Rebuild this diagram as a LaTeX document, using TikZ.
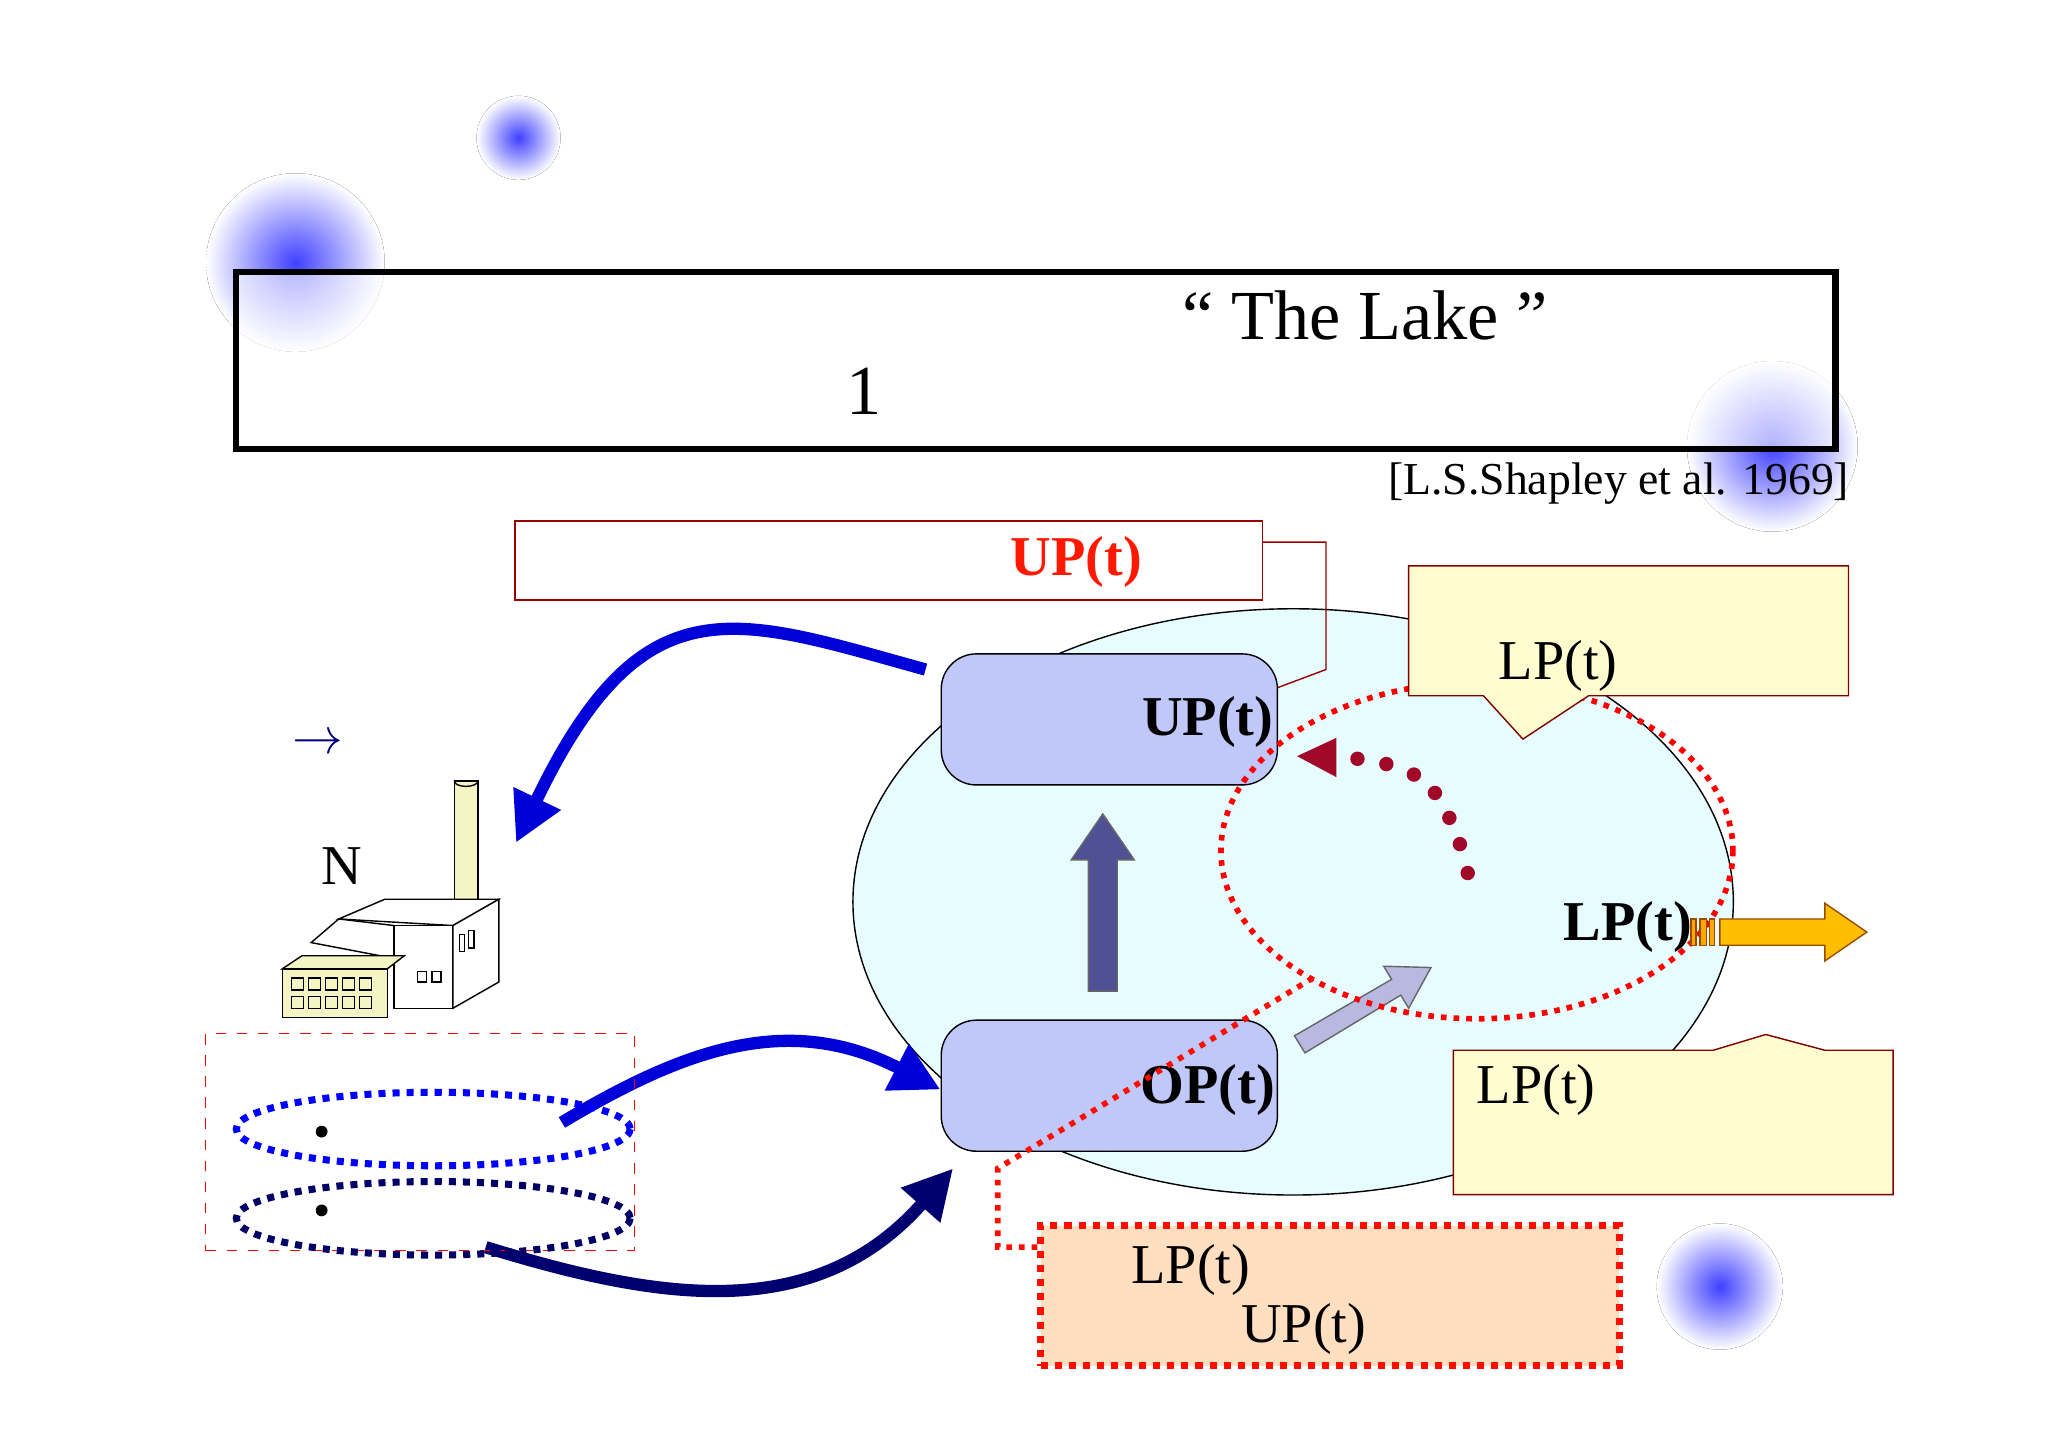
\documentclass[tikz,border=0pt]{standalone}
\usepackage{amsmath}
\usepackage{fontspec}
\setmainfont{Liberation Serif}
\usetikzlibrary{shapes.geometric,arrows.meta,positioning}
\definecolor{boxblue}{RGB}{192,200,250}
\definecolor{lakecyan}{RGB}{230,252,255}
\definecolor{callyellow}{RGB}{255,253,208}
\definecolor{facyellow}{RGB}{245,245,195}
\definecolor{darkred}{RGB}{160,10,40}
\tikzset{
  blob/.style={circle,inner color=blue!75,outer color=white,draw=none},
  part/.style={draw,rounded corners=10pt,fill=boxblue,minimum width=3.36cm,minimum height=1.31cm},
  txt/.style={font=\fontsize{16}{19}\selectfont},
  bold/.style={font=\fontsize{16}{19}\selectfont\bfseries},
  flow/.style={-{Triangle[length=14pt,width=14pt]},line width=3.5pt},
  callout/.style={draw=red!50!black,fill=callyellow}
}
\begin{document}
\begin{tikzpicture}[x=0.01313cm,y=-0.01313cm]
        \useasboundingbox (0,0) rectangle (1560,1102);
        % 模糊的蓝点
        \fill[blob] (395,105) circle (32);
        \fill[blob] (225,200) circle (68);
        \fill[blob] (1350,340) circle (65);
        \fill[blob] (1310,980) circle (48);

        % 标题框
        \draw[line width=1.8pt,fill=white,fill opacity=0.6] (180,207) rectangle (1398,342);
        \node[font=\fontsize{20}{24}\selectfont] (title) at (1040,240) {\textquotedblleft\ The Lake\ \textquotedblright};
        \node[font=\fontsize{20}{24}\selectfont] (one) at (658,298) {1};
        \node[font=\fontsize{13}{16}\selectfont] (cite) at (1233,368) {[L.S.Shapley et al. 1969]};

        % 湖
        \node[ellipse,draw,fill=lakecyan,minimum width=8.8cm,minimum height=5.86cm] (lake) at (985,687) {};

        % 上方说明框
        \node[draw=red!60!black,minimum width=7.47cm,minimum height=0.79cm] (upnote) at (677,427) {};
        \node[bold,text=red!80!orange] (upred) at (820,428) {UP(t)};
        \draw[red!60!black] (upnote.east|-0,413) -- (1010,413) -- (1010,510) -- (970,525);

        % UP / OP 方框
        \node[part] (up) at (845,548) {};
        \node[bold] (uplab) at (920,550) {UP(t)};
        \node[part] (op) at (845,827) {};
        \node[bold] (oplab) at (920,830) {OP(t)};

        % 粗箭头
        \fill[fill=blue!30!gray!90!black,draw=black!60] (829,755) -- (829,655) -- (816,655) -- (840,620) -- (864,655) -- (851,655) -- (851,755) -- cycle;
        \fill[fill=gray!60!blue!40,draw=black!60] (986,789) -- (1060,746) -- (1054,736) -- (1090,737) -- (1073,768) -- (1067,758) -- (994,802) -- cycle;

        % 红色虚线圈
        \draw[red,dotted,line width=1.6pt] (1125,648) ellipse (195 and 128);
        \foreach \p in {(1118,665),(1112,643),(1104,623),(1093,604),(1077,590),(1056,582),(1034,578)}
            \fill[darkred] \p circle (5.5);
        \coordinate (tip) at (988,576);
        \fill[darkred] (tip) -- (1018,562) -- (1018,592) -- cycle;

        % 说明框（上）
        \draw[callout] (1073,431) -- (1408,431) -- (1408,530) -- (1210,530) -- (1160,563) -- (1130,530) -- (1073,530) -- cycle;
        \node[txt] (lp1) at (1187,507) {LP(t)};

        % 说明框（下）
        \draw[callout] (1107,800) -- (1305,800) -- (1345,788) -- (1390,800) -- (1442,800) -- (1442,910) -- (1107,910) -- cycle;
        \node[txt] (lp2) at (1170,830) {LP(t)};

        % 流出
        \node[bold] (lpout) at (1240,706) {LP(t)};
        \fill[orange!70!yellow,draw=orange!60!black] (1288,700) rectangle (1292,720) (1295,700) rectangle (1300,720) (1302,700) rectangle (1306,720);
        \fill[orange!50!yellow,draw=orange!60!black] (1310,700) -- (1390,700) -- (1390,688) -- (1422,710) -- (1390,732) -- (1390,720) -- (1310,720) -- cycle;

        % 下方橙色框
        \node[draw=red!90!orange,dotted,line width=2pt,fill=orange!25,minimum width=5.78cm,minimum height=1.4cm] (note) at (1013,987) {};
        \node[txt] (lp3) at (907,967) {LP(t)};
        \node[txt] (up3) at (993,1012) {UP(t)};
        \draw[red!90!orange,dotted,line width=1.6pt] (note.west|-0,950) -- (760,950) -- (760,890) -- (1000,745);

        % 蓝色曲线箭头
        \coordinate (fac) at (393,642);
        \draw[flow,blue!85!black] (705,510) .. controls (560,470) and (490,440) .. (fac);
        \coordinate (src1) at (428,855);
        \draw[flow,blue!85!black] (src1) .. controls (520,800) and (600,770) .. (op.west|-0,830);
        \coordinate (src2) at (370,950);
        \draw[flow,blue!30!black!80!blue] (src2) .. controls (500,990) and (620,1010) .. (726,890);

        % 工厂
        \node[text=blue!50!black,font=\Large] (arr) at (242,567) {$\rightarrow$};
        \node[txt] (n) at (260,660) {N};
        \draw[fill=facyellow] (346,595) rectangle (364,685);
        \draw (346,595) arc[start angle=180,end angle=0,x radius=9,y radius=4];
        \draw[fill=white] (258,700) -- (293,685) -- (380,685) -- (345,705) -- cycle;
        \draw[fill=white] (300,705) -- (345,705) -- (345,768) -- (300,768) -- cycle;
        \draw[fill=white] (345,705) -- (380,685) -- (380,748) -- (345,768) -- cycle;
        \draw[fill=white] (237,718) -- (258,700) -- (300,705) -- (300,730) -- cycle;
        \draw[fill=facyellow] (215,738) rectangle (295,775);
        \draw[fill=facyellow] (215,738) -- (230,728) -- (308,728) -- (295,738) -- cycle;
        \foreach \i in {0,...,4} {
          \draw (222+\i*13,745) rectangle (231+\i*13,754);
          \draw (222+\i*13,759) rectangle (231+\i*13,768);
        }
        \draw (318,740) rectangle (325,748) (329,740) rectangle (336,748);
        \draw (350,712) rectangle (354,725) (357,709) rectangle (361,722);

        % 两个群体
        \node[draw=red,dashed,minimum width=4.29cm,minimum height=2.17cm] (pop) at (320,870) {};
        \draw[blue,dotted,line width=2pt] (330,860) ellipse (150 and 28);
        \draw[blue!40!black,dotted,line width=2pt] (330,928) ellipse (150 and 28);
        \fill (245,862) circle (4.5);
        \fill (245,922) circle (4.5);
\end{tikzpicture}
\end{document}
